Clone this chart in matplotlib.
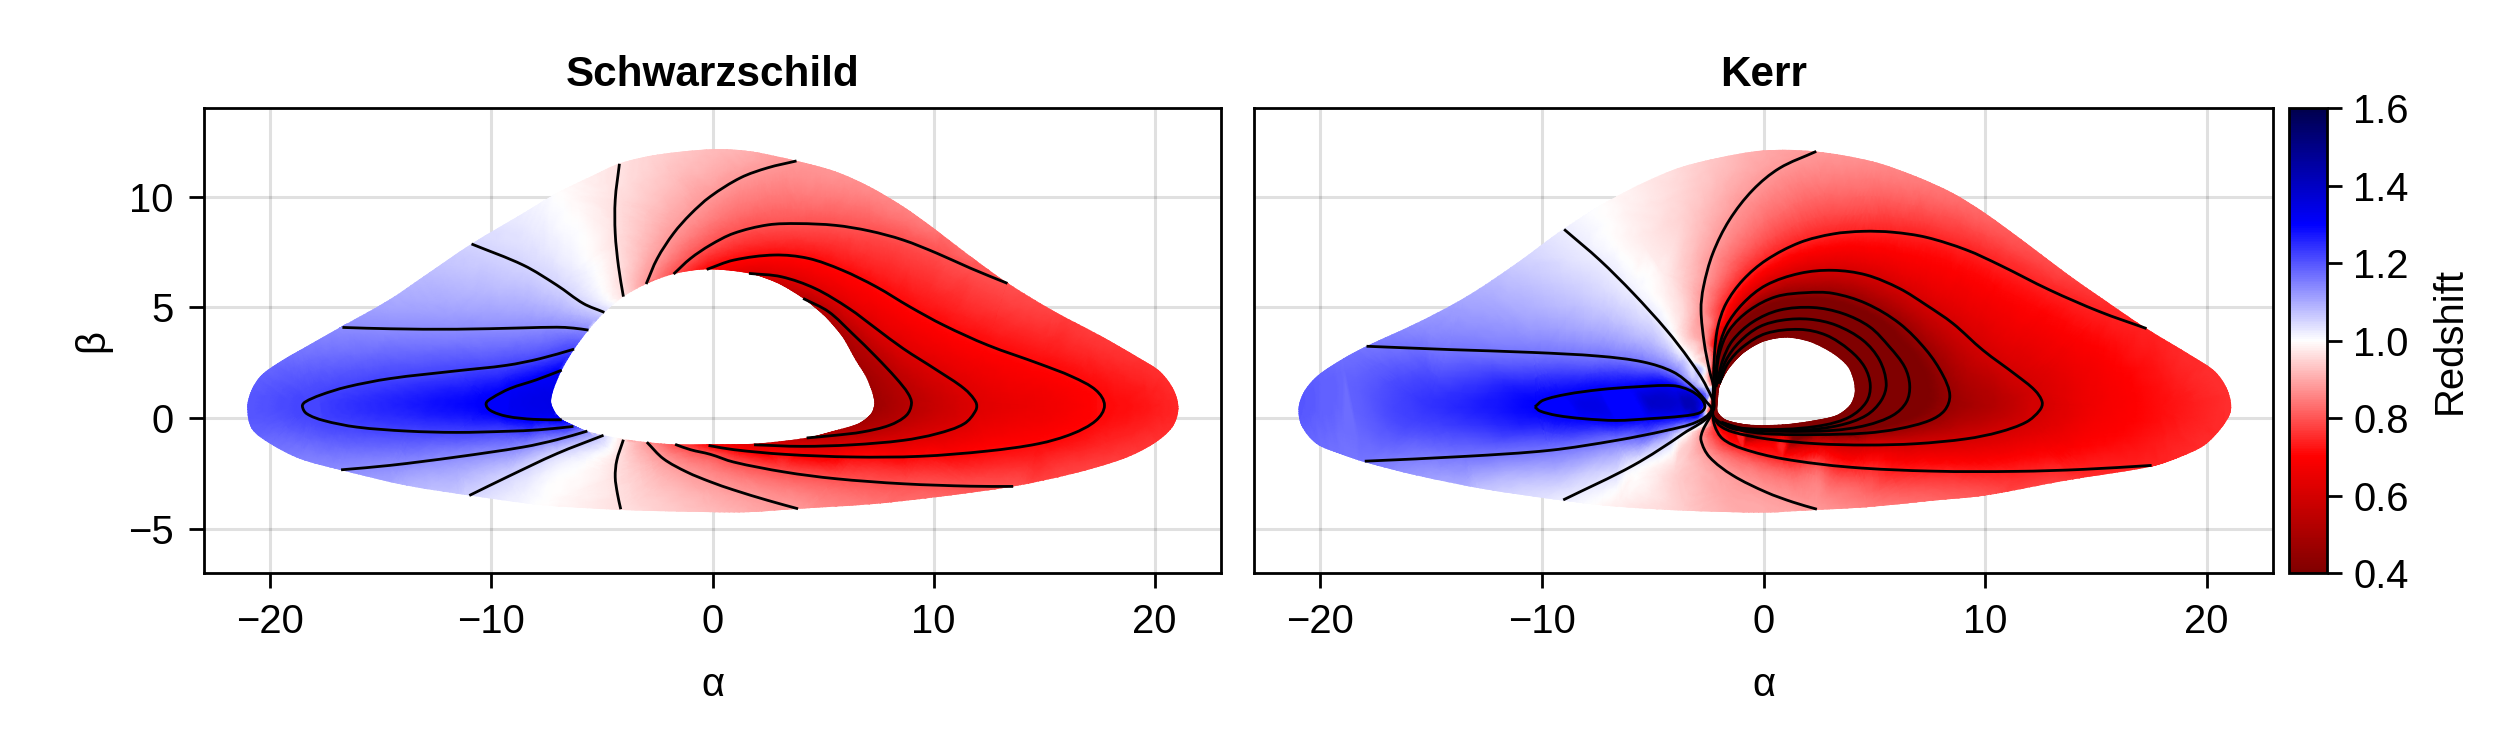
import numpy as np
import matplotlib
matplotlib.use("Agg")
import matplotlib.pyplot as plt
from matplotlib.path import Path
from matplotlib.patches import PathPatch
from matplotlib.tri import Triangulation, CubicTriInterpolator, UniformTriRefiner
from matplotlib.cm import ScalarMappable
from matplotlib.colors import Normalize

plt.rcParams['font.family'] = ['Liberation Sans', 'DejaVu Sans']
plt.rcParams['font.size'] = 14.4

# ---------- data: (alpha, beta) or (alpha, beta, redshift) ----------
TITLES = ["Schwarzschild", "Kerr"]
XTICKS = [-20, -10, 0, 10, 20]
YTICKS = [-5, 0, 5, 10]
CBAR_TICKS = [0.4, 0.6, 0.8, 1.0, 1.2, 1.4, 1.6]

S_OUTER = [(-21.04,.5,1.2),(-20.84,-.48,1.19),(-20,-1.16,1.17),(-18.66,-1.84,1.15),(-16.85,-2.34,1.135),
 (-13.83,-3.05,1.09),(-10.97,-3.5,1.05),(-7.8,-3.92,1.0),(-4.18,-4.15,.965),(-.1,-4.25,.92),(1.65,-4.25,.9),
 (3.87,-4.1,.88),(7.1,-3.9,.84),(10.15,-3.57,.82),(13.6,-3.09,.795),(16.28,-2.52,.78),(18.58,-1.84,.77),
 (19.95,-1.16,.76),(20.8,-.41,.75),(21.07,.42,.745),(20.87,1.25,.75),(20.26,2.08,.755),(19.34,2.68,.76),
 (17.5,3.74,.77),(15.36,4.87,.78),(13.37,6.08,.795),(11.68,7.29,.82),(10,8.57,.84),(8.62,9.55,.855),
 (7.09,10.45,.865),(5.56,11.13,.875),(3.8,11.61,.88),(1.73,12.04,.905),(.05,12.14,.92),(-2.5,11.89,.945),
 (-4.18,11.5,.965),(-5.5,10.9,.98),(-7.04,10.15,1.0),(-8.55,9.25,1.02),(-10.9,7.86,1.05),(-13.08,6.38,1.08),
 (-14.6,5.35,1.1),(-16.77,4.13,1.135),(-18.66,3.06,1.16),(-19.57,2.53,1.175),(-20.4,1.93,1.185),(-20.85,1.25,1.195)]
S_HOLE = [(-7.3,.72,1.34),(-7.2,1.25,1.33),(-6.82,2.16,1.305),(-6.26,3.1,1.22),(-5.61,3.97,1.135),(-4.89,4.77,1.05),
 (-4.03,5.48,.965),(-3,6.05,.88),(-1.76,6.5,.795),(-.26,6.71,.71),(1.65,6.53,.625),(2.96,6.08,.58),(4.1,5.4,.54),
 (5.1,4.57,.52),(5.87,3.67,.5),(6.48,2.6,.49),(6.94,1.86,.48),(7.24,1.1,.475),(7.32,.65,.47),(7.17,.2,.48),
 (6.63,-.23,.49),(5.56,-.56,.51),(4.26,-.89,.54),(1.88,-1.16,.625),(-.26,-1.19,.71),(-1.69,-1.19,.795),
 (-2.97,-1.09,.88),(-4.03,-.95,.965),(-4.93,-.78,1.05),(-5.69,-.59,1.135),(-6.29,-.33,1.22),(-6.82,-.06,1.305),(-7.12,.27,1.33)]
S_RIDGE = [(-16.5,.55,1.24),(-14.5,.6,1.26),(-12.2,.6,1.285),(-8.5,.65,1.33),(15,.5,.665),(19.5,.5,.725),(10.4,.5,.58),(8,.5,.5)]

S_LINES = [
 (.965,[(-4.21,11.48),(-4.4,9.85),(-4.4,8.34),(-4.25,6.83),(-4.03,5.48)]),
 (.965,[(-4.03,-.98),(-4.33,-1.92),(-4.4,-2.67),(-4.3,-3.42),(-4.15,-4.12)]),
 (1.05,[(-10.9,7.86),(-8.55,6.9),(-7.04,6.0),(-5.84,5.17),(-4.89,4.77)]),
 (1.05,[(-11,-3.5),(-9.3,-2.67),(-7.04,-1.61),(-4.93,-.78)]),
 (1.135,[(-16.74,4.09),(-14.6,4.03),(-11.57,4.01),(-8.55,4.07),(-7.04,4.1),(-6.29,4.06),(-5.61,3.97)]),
 (1.135,[(-16.8,-2.34),(-14.59,-2.14),(-11.57,-1.76),(-8.55,-1.31),(-7.04,-.98),(-5.66,-.59)]),
 (1.22,[(-6.26,3.11),(-7.8,2.68),(-9.31,2.38),(-11.57,2.13),(-14.59,1.78),(-16.55,1.4),(-17.75,1.03),(-18.43,.72),
        (-18.55,.53),(-18.36,.2),(-17.6,-.11),(-16.09,-.41),(-13.83,-.59),(-11.57,-.65),(-9.31,-.6),(-7.8,-.53),(-6.29,-.38)]),
 (1.305,[(-6.82,2.16),(-7.95,1.73),(-9.16,1.33),(-9.98,.9),(-10.24,.65),(-10.06,.35),(-9.31,.08),(-8.1,-.06),(-6.82,-.08)]),
 (.88,[(-3,6.05),(-2.5,7.2),(-1.76,8.34),(-1,9.2),(-.1,10),(1.27,10.85),(2.5,11.3),(3.8,11.61)]),
 (.88,[(-2.97,-1.09),(-2.22,-1.84),(-1.16,-2.44),(-.1,-2.88),(.96,-3.25),(2.5,-3.72),(3.87,-4.1)]),
 (.795,[(-1.76,6.5),(-1,7.2),(-.1,7.81),(.96,8.34),(2.5,8.72),(3.87,8.78),(5.56,8.7),(7.09,8.45),(8.62,8.04),
        (10.15,7.44),(11.68,6.76),(13.34,6.08)]),
 (.795,[(-1.69,-1.19),(-1,-1.43),(-.1,-1.64),(.96,-1.99),(3.26,-2.44),(5.56,-2.74),(8.62,-2.97),(11.68,-3.08),(13.6,-3.09)]),
 (.71,[(-.26,6.71),(.96,7.13),(2.8,7.36),(4.33,7.21),(5.86,6.68),(7.4,5.93),(8.93,5.02),(10.46,4.19),(12.45,3.29),
       (14.75,2.46),(16.28,1.86),(17.35,1.25),(17.73,.57),(17.35,-.11),(16.28,-.71),(14.75,-1.16),(12.45,-1.49),
       (9.39,-1.73),(6.33,-1.76),(3.26,-1.64),(.96,-1.43),(-.18,-1.24)]),
 (.625,[(1.65,6.53),(3.11,6.38),(4.64,5.85),(6.17,4.95),(7.4,4.04),(8.62,3.14),(10.15,2.16),(11.38,1.33),(11.91,.72),
        (11.91,.35),(11.38,-.26),(10.15,-.71),(8.62,-1.01),(6.33,-1.21),(4.03,-1.28),(1.88,-1.21)]),
 (.54,[(4.1,5.4),(5.25,4.8),(6.32,3.82),(7.4,2.76),(8.32,1.78),(8.85,1.1),(9,.65),(8.77,.12),(8,-.33),(6.78,-.63),
       (5.56,-.78),(4.26,-.9)]),
]

K_OUTER = [(-20.98,.5,1.2),(-20.86,-.33,1.19),(-20.18,-1.16,1.175),(-19.13,-1.61,1.165),(-18,-1.99,1.16),
 (-15.67,-2.59,1.12),(-12.66,-3.2,1.07),(-9.04,-3.73,1.02),(-6.64,-4,.98),(-3.63,-4.18,.94),(0,-4.27,.9),
 (2.38,-4.15,.88),(4.64,-4.03,.85),(7.65,-3.73,.82),(10,-3.5,.8),(13.67,-2.82,.77),(17.52,-2.19,.74),
 (18.8,-1.76,.745),(19.9,-1.23,.75),(20.7,-.41,.75),(21.1,.35,.755),(20.95,1.25,.755),(20.4,2.08,.755),
 (19.4,2.76,.75),(17.29,4.04,.74),(15.18,5.47,.76),(13.67,6.53,.78),(11.87,7.89,.8),
 (10,9.25,.82),(8.55,10.15,.835),(6.9,10.9,.85),(4.94,11.58,.865),(2.3,12.04,.88),(0,12.08,.9),
 (-2.12,11.73,.93),(-4.08,11.2,.96),(-6.64,10,.99),(-9.04,8.52,1.02),(-11.15,6.98,1.06),(-13.41,5.48,1.1),
 (-15.67,4.28,1.13),(-17.92,3.24,1.16),(-18.97,2.68,1.17),(-20.1,1.93,1.185),(-20.7,1.25,1.195)]
K_HOLE = [(-2.06,.72,.1),(-1.99,1.4,.05),(-1.61,2.16,0),(-.93,2.91,0),(-.03,3.44,0),(1.02,3.63,0),(2.08,3.44,0),
 (3.13,2.91,0),(3.81,2.31,0),(4.08,1.63,0),(4.11,1.1,0),(3.89,.57,0),(3.28,.12,0),(2.08,-.14,0),(.87,-.29,0),
 (-.63,-.3,0),(-1.69,-.08,0),(-2.06,.27,.1)]
K_RIDGE = [(-15,.5,1.24),(-8,.6,1.34),(-5,.7,1.39),(-3.2,.6,1.42),(15,.5,.67),(18,.5,.715),(10.5,.5,.53),
 (-5.5,-3,.99),(-4,-2.4,.95),(-3.3,-3.2,.93),(-1.8,-3.4,.9),(-3.5,3.6,.95),(-4.5,6.5,.98),(-5.5,8,.98),(-3.5,9.5,.945)]
K_HUB = (-2.28, .35)   # the point all Kerr contours run into

K_LINES = [
 (.88,[(2.38,12.04),(.72,11.28),(-.48,10.3),(-1.54,8.94),(-2.29,7.43),(-2.71,5.92),(-2.82,4.87),(-2.67,3.36),
       (-2.44,2.15),(-2.26,1.4),(-2.29,.35),(-2.74,-.56),(-2.82,-1.01),(-2.44,-1.76),(-1.39,-2.59),(.12,-3.35),
       (1.33,-3.8),(2.41,-4.12)]),
 (.74,[(17.29,4.04),(15.18,4.8),(12.92,5.78),(10.66,6.91),(9.16,7.59),(7.35,8.16),(5.84,8.39),(4.49,8.43),(3.13,8.31),
       (1.63,7.92),(.12,7.13),(-.93,6.23),(-1.69,5.17),(-2.06,4.12),(-2.21,2.91),(-2.26,1.55),(-2.29,.35),(-2.21,-.33),
       (-1.84,-.94),(-.93,-1.39),(.87,-1.84),(3.89,-2.22),(7.65,-2.4),(11.42,-2.41),(14.43,-2.32),(17.52,-2.14)]),
 (.6,[(-2.29,.35),(-2.17,1.55),(-2.06,2.91),(-1.69,4.12),(-.93,5.17),(.12,6),(1.63,6.53),(3.13,6.67),(4.64,6.46),
      (6.14,5.85),(7.35,5.1),(8.55,4.27),(9.91,3.06),(11.42,1.93),(12.25,1.25),(12.58,.72),(12.47,.35),(11.87,-.18),
      (10.66,-.63),(9.16,-.94),(6.9,-1.16),(4.64,-1.22),(2.38,-1.16),(.12,-.94),(-1.39,-.63),(-1.99,-.33),(-2.29,.12)]),
 (.46,[(-2.17,1.55),(-1.99,2.91),(-1.54,3.97),(-.63,4.87),(.57,5.48),(1.93,5.66),(3.13,5.63),(4.64,5.17),(6.14,4.27),
       (7.35,3.06),(8.1,1.93),(8.41,1.03),(8.18,.35),(7.5,-.11),(6.14,-.48),(4.64,-.68),(2.38,-.75),(.12,-.71),
       (-1.39,-.48),(-1.99,-.18),(-2.29,.05)]),
 (.32,[(-2.14,1.4),(-1.84,2.61),(-1.39,3.51),(-.48,4.34),(.72,4.87),(2.23,4.99),(3.58,4.72),(4.79,4.12),(5.69,3.21),
       (6.37,2.31),(6.6,1.48),(6.45,.72),(5.84,.12),(4.64,-.33),(3.13,-.56),(.87,-.6),(-1.08,-.48),(-1.91,-.18)]),
 (.18,[(-2.06,1.55),(-1.69,2.61),(-1.08,3.44),(-.18,4.12),(.87,4.42),(2.08,4.46),(3.28,4.19),(4.49,3.51),(5.24,2.61),
       (5.54,1.55),(5.32,.8),(4.64,.12),(3.43,-.33),(1.63,-.56),(-.63,-.53),(-1.84,-.23)]),
 (.04,[(-1.99,1.55),(-1.61,2.46),(-.93,3.21),(.12,3.82),(1.63,4),(2.83,3.74),(3.89,3.06),(4.56,2.31),(4.82,1.48),
       (4.64,.72),(3.89,.05),(2.68,-.33),(.87,-.51),(-1.08,-.45),(-1.84,-.23)]),
 (1.02,[(-9,8.52),(-7.39,7.13),(-5.88,5.63),(-4.38,3.97),(-3.33,2.61),(-2.57,1.4),(-2.27,.35),(-3.63,-.71),(-5.88,-2.14),(-9.04,-3.7)]),
 (1.16,[(-17.92,3.24),(-14.16,3.09),(-10.4,2.96),(-7.39,2.79),(-5.43,2.53),(-4.08,2.08),(-3.18,1.4),(-2.57,.72),(-2.35,.35),
        (-3.02,-.18),(-4.38,-.56),(-6.64,-1.01),(-9.65,-1.46),(-13.41,-1.73),(-18,-1.95)]),
 (1.3,[(-10.32,.5),(-9.95,.8),(-8.89,1.07),(-7.39,1.28),(-5.88,1.4),(-4.08,1.46),(-3.33,1.25),(-2.8,.87),(-2.65,.5),
       (-2.87,.24),(-3.63,.09),(-5.13,-.03),(-6.64,-.11),(-8.14,-.03),(-9.35,.12),(-10.1,.32),(-10.32,.5)]),
]

CMAP = 'seismic_r'
VMIN, VMAX = 0.4, 1.6


def bezier_path(points, closed=False):
    """Smooth path through the read points, as matplotlib cubic Bezier segments."""
    p = np.asarray(points, float)[:, :2]
    n = len(p)
    if closed:
        prev, nxt = np.roll(p, 1, axis=0), np.roll(p, -1, axis=0)
    else:
        prev = np.vstack([p[0], p[:-1]])
        nxt = np.vstack([p[1:], p[-1]])
    t = nxt - prev
    t /= np.maximum(np.hypot(t[:, 0], t[:, 1])[:, None], 1e-9)
    verts, codes = [p[0]], [Path.MOVETO]
    for i in range(n if closed else n - 1):
        j = (i + 1) % n
        seg = np.hypot(*(p[j] - p[i]))
        verts += [p[i] + t[i]*seg/3, p[j] - t[j]*seg/3, p[j]]
        codes += [Path.CURVE4]*3
    return Path(np.array(verts), codes)


def field_samples(outer, hole, ridge, lines, hub=None):
    out = np.asarray(outer, float)
    guard = out.copy()                       # a ring just outside the edge, clipped away later
    guard[:, 0] *= 1.06
    guard[:, 1] = 4 + (guard[:, 1] - 4)*1.10
    samples = list(map(tuple, out)) + list(hole) + list(ridge)
    for level, pts in lines:
        for a, b in pts:
            if hub is not None and np.hypot(a-hub[0], b-hub[1]) < 0.45:
                continue
            samples.append((a, b, level))
    samples += list(map(tuple, guard))
    arr = np.array(samples, float)
    _, idx = np.unique(np.round(arr[:, :2], 1), axis=0, return_index=True)
    return arr[np.sort(idx)]


def draw_panel(ax, outer, hole, ridge, lines, title, hub=None):
    s = field_samples(outer, hole, ridge, lines, hub)
    tri = Triangulation(s[:, 0], s[:, 1])
    xc = s[:, 0][tri.triangles].mean(axis=1)
    yc = s[:, 1][tri.triangles].mean(axis=1)
    hole_path = Path(np.asarray(hole)[:, :2])
    tri.set_mask(hole_path.contains_points(np.c_[xc, yc]))
    interp = CubicTriInterpolator(tri, s[:, 2], kind='geom')
    fine, found = UniformTriRefiner(tri).refine_triangulation(subdiv=3, return_tri_index=True)
    # keep the smooth shading inside the values read at the corners of each coarse triangle
    corners = s[:, 2][tri.triangles[found]]
    lo, hi = corners.min(axis=1), corners.max(axis=1)
    zfine = np.ma.filled(interp(fine.x, fine.y), np.nan)
    zfine = np.where(np.isnan(zfine), lo, zfine)
    zfine = np.clip(zfine, lo, hi)
    mesh = ax.tripcolor(fine, zfine, shading='gouraud', cmap=CMAP, vmin=VMIN, vmax=VMAX, zorder=2)
    region = Path.make_compound_path(bezier_path(outer, closed=True), bezier_path(hole, closed=True))
    mesh.set_clip_path(region, ax.transData)
    for level, pts in lines:
        ax.add_patch(PathPatch(bezier_path(pts), fill=False, ec='black', lw=1.0, zorder=3,
                               capstyle='butt'))
    ax.set_xlim(-23, 23)
    ax.set_ylim(-7, 14)
    ax.set_xticks(XTICKS)
    ax.set_yticks(YTICKS)
    ax.grid(True, color='black', alpha=0.12, lw=1.1)
    ax.set_axisbelow(True)
    ax.tick_params(length=5.4, width=1.0, pad=5.5, labelsize=14.4)
    for sp in ax.spines.values():
        sp.set_linewidth(1.0)
    ax.set_title(title, fontsize=15.2, fontweight='bold', pad=8)
    ax.set_xlabel('α', fontsize=14.4, labelpad=9)


W, H = 2520, 750
fig = plt.figure(figsize=(W/200, H/200), dpi=200)


def px_axes(x0, x1, y0=108, y1=573):
    return fig.add_axes([x0/W, 1-y1/H, (x1-x0)/W, (y1-y0)/H])


ax1 = px_axes(204, 1221)
ax2 = px_axes(1254, 2273)
cax = px_axes(2289, 2327)

draw_panel(ax1, S_OUTER, S_HOLE, S_RIDGE, S_LINES, TITLES[0])
draw_panel(ax2, K_OUTER, K_HOLE, K_RIDGE, K_LINES, TITLES[1], K_HUB)
ax1.set_ylabel('β', fontsize=14.4, labelpad=6)
ax2.tick_params(axis='y', left=False, labelleft=False)

cb = fig.colorbar(ScalarMappable(Normalize(VMIN, VMAX), CMAP), cax=cax)
cb.set_ticks(CBAR_TICKS)
cb.ax.tick_params(length=5.4, width=1.0, pad=4, labelsize=14.4)
cb.outline.set_linewidth(1.0)
cb.set_label('Redshift', fontsize=14.4, labelpad=8)

fig.savefig('out.png', dpi=200, facecolor='white')
